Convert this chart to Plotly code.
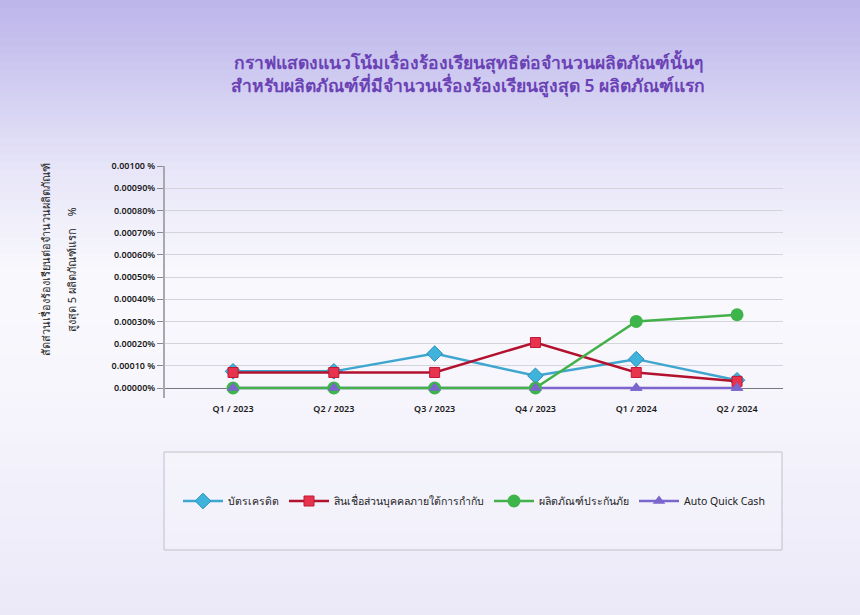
import plotly.graph_objects as go

quarters = ["Q1 / 2023", "Q2 / 2023", "Q3 / 2023", "Q4 / 2023", "Q1 / 2024", "Q2 / 2024"]
credit_card = [0.000075, 0.000075, 0.000155, 0.000055, 0.00013, 0.000035]
personal_loan = [0.00007, 0.00007, 0.00007, 0.000205, 0.00007, 0.00003]
insurance = [0.0, 0.0, 0.0, 0.0, 0.0003, 0.00033]
auto_quick_cash = [0.0, 0.0, 0.0, 0.0, 0.0, 0.0]

names = ["บัตรเครดิต", "สินเชื่อส่วนบุคคลภายใต้การกำกับ", "ผลิตภัณฑ์ประกันภัย", "Auto Quick Cash"]
tick_vals = [0.0, 0.0001, 0.0002, 0.0003, 0.0004, 0.0005, 0.0006, 0.0007, 0.0008, 0.0009, 0.001]
tick_text = ["0.00000%", "0.00010 %", "0.00020%", "0.00030%", "0.00040%", "0.00050%",
             "0.00060%", "0.00070%", "0.00080%", "0.00090%", "0.00100 %"]

title_text = ("กราฟแสดงแนวโน้มเรื่องร้องเรียนสุทธิต่อจำนวนผลิตภัณฑ์นั้นๆ<br>"
              "สำหรับผลิตภัณฑ์ที่มีจำนวนเรื่องร้องเรียนสูงสุด 5 ผลิตภัณฑ์แรก")
ytitle_1 = "สัดส่วนเรื่องร้องเรียนต่อจำนวนผลิตภัณฑ์"
ytitle_2 = "สูงสุด 5 ผลิตภัณฑ์แรก&nbsp;&nbsp;&nbsp;&nbsp;%"

W, H = 860, 615
L, R, T, B = 165, 77, 166, 217
PW, PH = W - L - R, H - T - B

def px_x(p):
    return (p - L) / PW

def px_y(p):
    return (H - B - p) / PH

FONT = "Noto Sans, Lato, sans-serif"

fig = go.Figure()

fig.add_trace(go.Scatter(
    x=quarters, y=credit_card, name=names[0], mode="lines+markers",
    line=dict(color="#3ea6cf", width=2.5),
    marker=dict(symbol="diamond", size=12, color="#3fb3dc", line=dict(color="#2a8fb8", width=1)),
    legendrank=1))
fig.add_trace(go.Scatter(
    x=quarters, y=personal_loan, name=names[1], mode="lines+markers",
    line=dict(color="#b3122e", width=2.5),
    marker=dict(symbol="square", size=10, color="#e8334f", line=dict(color="#c01836", width=1)),
    legendrank=2))
fig.add_trace(go.Scatter(
    x=quarters, y=auto_quick_cash, name=names[3], mode="lines+markers",
    line=dict(color="#7a66cc", width=2.5),
    marker=dict(symbol="triangle-up", size=11, color="#7a66cc"),
    legendgroup="aqc", legendrank=4))
fig.add_trace(go.Scatter(
    x=quarters, y=insurance, name=names[2], mode="lines+markers",
    line=dict(color="#44b04a", width=2.5),
    marker=dict(symbol="circle", size=13, color="#3db54a"),
    legendrank=3))
fig.add_trace(go.Scatter(
    x=quarters, y=auto_quick_cash, name=names[3], mode="markers",
    marker=dict(symbol="triangle-up", size=11, color="#7a66cc"),
    legendgroup="aqc", showlegend=False, hoverinfo="skip"))

# background gradient
stops = [(0.0, (188, 181, 234)), (0.12, (206, 201, 240)), (0.28, (232, 230, 248)),
         (0.45, (249, 249, 253)), (0.65, (246, 245, 252)), (1.0, (235, 233, 248))]

def col_at(t):
    for (t0, c0), (t1, c1) in zip(stops[:-1], stops[1:]):
        if t0 <= t <= t1:
            f = (t - t0) / (t1 - t0) if t1 > t0 else 0
            return "rgb(%d,%d,%d)" % tuple(round(a + (b - a) * f) for a, b in zip(c0, c1))
    return "rgb(%d,%d,%d)" % stops[-1][1]

shapes = []
n = 80
for i in range(n):
    p0 = H * i / n
    p1 = H * (i + 1) / n + 1
    shapes.append(dict(type="rect", xref="paper", yref="paper", layer="below",
                       x0=px_x(0), x1=px_x(W), y0=px_y(p1), y1=px_y(p0),
                       fillcolor=col_at((i + 0.5) / n), line=dict(width=0)))
# legend frame
shapes.append(dict(type="rect", xref="paper", yref="paper", layer="below",
                   x0=px_x(164), x1=px_x(782), y0=px_y(550), y1=px_y(452),
                   fillcolor="rgba(255,255,255,0.2)", line=dict(color="#c0bfcc", width=1)))

annotations = [
    dict(text=title_text, xref="paper", yref="paper", x=px_x(468), y=px_y(74),
         xanchor="center", yanchor="middle", showarrow=False,
         font=dict(family=FONT, size=17.5, color="#6a42b5", weight=600)),
    dict(text=ytitle_1, xref="paper", yref="paper", x=px_x(45), y=px_y(260),
         xanchor="center", yanchor="middle", textangle=-90, showarrow=False,
         font=dict(family=FONT, size=11, color="#222222")),
    dict(text=ytitle_2, xref="paper", yref="paper", x=px_x(71), y=px_y(270),
         xanchor="center", yanchor="middle", textangle=-90, showarrow=False,
         font=dict(family=FONT, size=11, color="#222222")),
]

fig.update_layout(
    width=W, height=H,
    margin=dict(l=L, r=R, t=T, b=B, pad=0),
    paper_bgcolor="#f7f6fc",
    plot_bgcolor="rgba(0,0,0,0)",
    shapes=shapes,
    annotations=annotations,
    showlegend=True,
    legend=dict(orientation="h", x=px_x(474), y=px_y(501), xanchor="center", yanchor="middle",
                bgcolor="rgba(0,0,0,0)", borderwidth=0, traceorder="normal",
                font=dict(family=FONT, size=10.5, color="#222222"), itemwidth=40),
    xaxis=dict(type="category", range=[-0.675, 5.456], showgrid=False, zeroline=False,
               showline=False, ticks="", ticklabelstandoff=4,
               tickfont=dict(family=FONT, size=9, color="#1a1a1a", weight=600)),
    yaxis=dict(range=[-0.000045, 0.001], tickvals=tick_vals, ticktext=tick_text,
               showgrid=True, gridcolor="#d4d4dc", gridwidth=1,
               zeroline=True, zerolinecolor="#77777f", zerolinewidth=1,
               showline=True, linecolor="#a8a8b0", linewidth=2,
               ticks="outside", ticklen=6, tickcolor="#888890",
               tickfont=dict(family=FONT, size=9, color="#1a1a1a", weight=600)),
)

fig.write_html("out.html", config={"displayModeBar": False},
               post_script="document.body.style.margin='0';document.body.style.overflow='hidden';")
